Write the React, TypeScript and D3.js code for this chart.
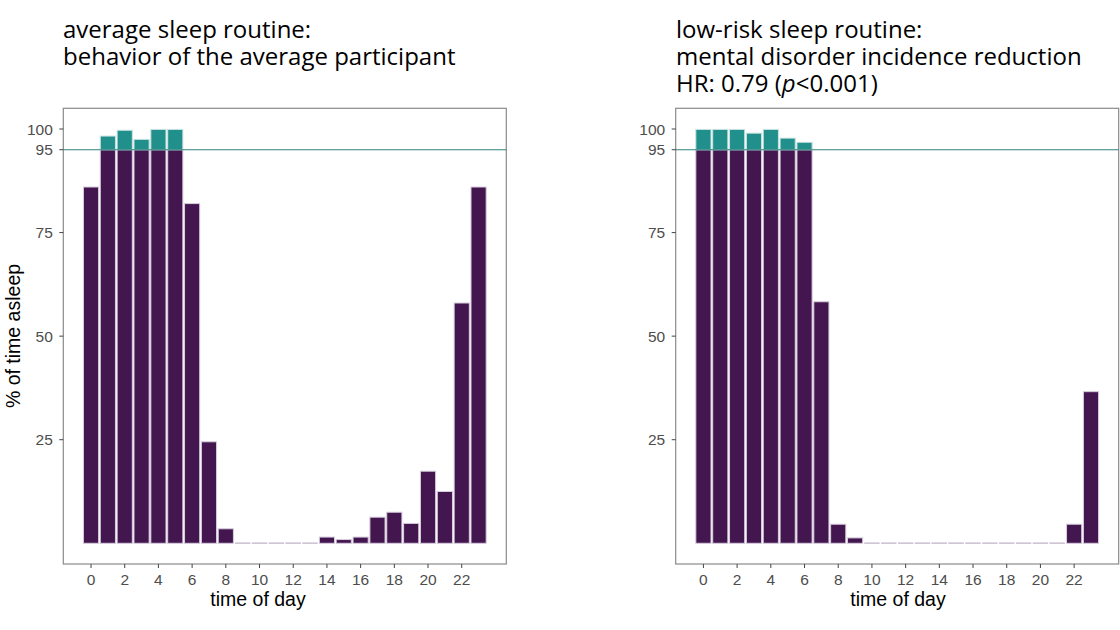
import * as d3 from 'd3';

// hours of the day shown on both panels
const HOURS = d3.range(24);

// % of time asleep per hour
const AVERAGE_SLEEP = [
  86, 98.3, 99.7, 97.5, 99.9, 99.9, 82, 24.5, 3.5, 0.1, 0.1, 0.1,
  0.1, 0.1, 1.5, 0.9, 1.5, 6.3, 7.5, 4.8, 17.4, 12.5, 58, 86,
];
const LOW_RISK_SLEEP = [
  99.9, 99.9, 99.9, 99, 99.9, 97.8, 96.8, 58.3, 4.6, 1.3, 0.1, 0.1,
  0.1, 0.1, 0.1, 0.1, 0.1, 0.1, 0.1, 0.1, 0.1, 0.1, 4.6, 36.6,
];

const THRESHOLD = 95;
const Y_TICKS = [25, 50, 75, 95, 100];
const X_TICKS = d3.range(0, 24, 2);

const LEFT_TITLE = ['average sleep routine:', 'behavior of the average participant'];
const RIGHT_TITLE = ['low-risk sleep routine:', 'mental disorder incidence reduction'];

const PURPLE = '#44164f';
const TEAL = '#21908c';
const BAR_STROKE = '#d6cddc';
const TICK_FONT = '"Liberation Sans", Arial, sans-serif';
const TITLE_FONT = '"Open Sans", "Noto Sans", sans-serif';

interface PanelProps {
  left: number;
  values: number[];
  axisTitleX: number;
}

function Panel({ left, values, axisTitleX }: PanelProps) {
  const top = 108.3;
  const bottom = 564;
  const right = left + 443;
  const barWidth = 0.9;

  const x = d3.scaleLinear().domain([-1.645, 24.645]).range([left, right]);
  const y = d3.scaleLinear().domain([-5, 105]).range([bottom, top]);
  const halfW = x(barWidth / 2) - x(0);

  return (
    <g>
      <rect x={left} y={top} width={right - left} height={bottom - top}
        fill="#fff" stroke="#8a8a8a" strokeWidth={1.2} />

      {HOURS.map((h, i) => {
        const v = values[i];
        const lower = Math.min(v, THRESHOLD);
        return (
          <g key={h}>
            <rect x={x(h) - halfW} y={y(lower)} width={halfW * 2} height={y(0) - y(lower)}
              fill={PURPLE} stroke={BAR_STROKE} strokeWidth={v < 0.5 ? 0.5 : 1} />
            {v > THRESHOLD && (
              <rect x={x(h) - halfW} y={y(v)} width={halfW * 2} height={y(THRESHOLD) - y(v)}
                fill={TEAL} stroke="#c9e2e0" strokeWidth={1} />
            )}
          </g>
        );
      })}

      <line x1={left} x2={right} y1={y(THRESHOLD)} y2={y(THRESHOLD)} stroke="#2f827d" strokeWidth={1.2} />

      {Y_TICKS.map(t => (
        <g key={t}>
          <line x1={left - 4} x2={left} y1={y(t)} y2={y(t)} stroke="#444" strokeWidth={1} />
          <text x={left - 10.5} y={y(t)} dy="0.36em" textAnchor="end"
            fontFamily={TICK_FONT} fontSize={15.5} fill="#4d4d4d">{t}</text>
        </g>
      ))}

      {X_TICKS.map(t => (
        <g key={t}>
          <line x1={x(t)} x2={x(t)} y1={bottom} y2={bottom + 4} stroke="#444" strokeWidth={1} />
          <text x={x(t)} y={585} textAnchor="middle"
            fontFamily={TICK_FONT} fontSize={15.5} fill="#4d4d4d">{t}</text>
        </g>
      ))}

      <text x={axisTitleX} y={606} textAnchor="middle" fontFamily={TICK_FONT} fontSize={19.5} fill="#000">
        time of day
      </text>
    </g>
  );
}

export default function App() {
  return (
    <svg width={1120} height={630} style={{ position: 'absolute', left: 0, top: 0, background: '#fff' }}>
      <rect width={1120} height={630} fill="#fff" />

      <Panel left={63.3} values={AVERAGE_SLEEP} axisTitleX={258} />
      <Panel left={675.7} values={LOW_RISK_SLEEP} axisTitleX={898} />

      <text transform="translate(20,336) rotate(-90)" textAnchor="middle"
        fontFamily={TICK_FONT} fontSize={19.5} fill="#000">% of time asleep</text>

      <g fontFamily={TITLE_FONT} fontSize={24} fill="#000">
        {LEFT_TITLE.map((line, i) => (
          <text key={line} x={63} y={38 + i * 26.8}>{line}</text>
        ))}
        {RIGHT_TITLE.map((line, i) => (
          <text key={line} x={676} y={38 + i * 26.8}>{line}</text>
        ))}
        <text x={676} y={38 + 2 * 26.8}>
          HR: 0.79 (<tspan fontStyle="italic">p</tspan>&lt;0.001)
        </text>
      </g>
    </svg>
  );
}
